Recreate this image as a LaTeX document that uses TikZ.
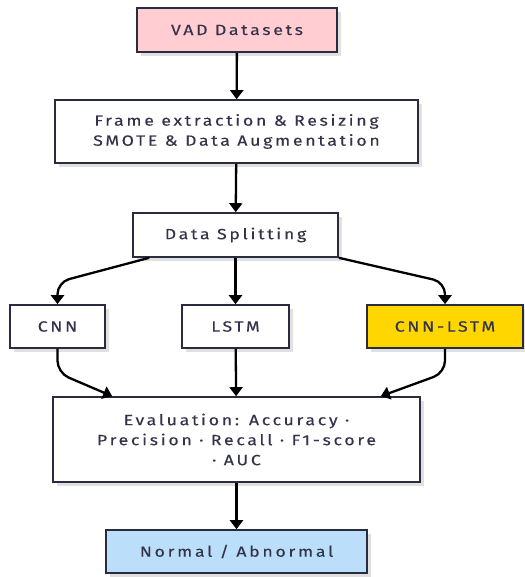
\documentclass[tikz,border=0pt]{standalone}
\usepackage{fontspec}
\setmainfont{Fira Sans}[LetterSpace=18,FakeStretch=1.2,FakeBold=0.2]
\usepackage{xcolor}
\usepackage{tikz}
\usetikzlibrary{positioning, calc, shadows, arrows.meta}

\definecolor{inkline}{HTML}{2B2B40}
\definecolor{inktext}{HTML}{33334A}
\definecolor{pinkbox}{HTML}{FFCDD2}
\definecolor{goldbox}{HTML}{FFD600}
\definecolor{bluebox}{HTML}{BBDEFB}

\tikzset{
  stage/.style={draw=inkline, line width=1.6bp, fill=white, text=inktext,
    align=center, inner sep=2bp,
    font=\fontsize{14.8bp}{20bp}\selectfont,
    drop shadow={shadow xshift=4bp, shadow yshift=-4bp, fill=black!12, opacity=1}},
  flow/.style={line width=2.3bp, -{Triangle[width=13bp,length=9bp]}},
}

\begin{document}
\begin{tikzpicture}[x=1bp, y=-1bp]

\useasboundingbox (0,0) rectangle (525,577);

% Input data
\node[stage, fill=pinkbox, minimum width=200bp, minimum height=44bp] (datasets) at (237,30) {VAD Datasets};

% Preprocessing
\node[stage, minimum width=363bp, minimum height=63bp] (frames) at (236.5,131.5) {Frame extraction \& Resizing\\SMOTE \& Data Augmentation};

% Split
\node[stage, minimum width=205bp, minimum height=44bp] (split) at (235.5,235) {Data Splitting};

% Models
\node[stage, minimum width=95bp, minimum height=43bp] (cnn) at (57.5,326.5) {CNN};
\node[stage, minimum width=107bp, minimum height=43bp] (lstm) at (235.5,326.5) {LSTM};
\node[stage, fill=goldbox, minimum width=156bp, minimum height=43bp] (cnnlstm) at (445,326.5) {CNN-LSTM};

% Metrics
\node[stage, minimum width=367bp, minimum height=85bp] (eval) at (236.5,439.5) {Evaluation: Accuracy ·\\Precision · Recall · F1-score\\· AUC};

% Result
\node[stage, fill=bluebox, minimum width=261bp, minimum height=43bp] (output) at (236.5,551.5) {Normal / Abnormal};

% Arrows
\draw[flow] (datasets) -- (frames);
\draw[flow] (frames) -- (split);
\draw[flow] (split) -- (lstm);
\draw[flow, rounded corners=12bp] ($(split.south west)+(17,0)$) -- ($(cnn.north)+(0,-22)$) -- (cnn.north);
\draw[flow, rounded corners=12bp] (split.south east) -- ($(cnnlstm.north)+(0,-22)$) -- (cnnlstm.north);
\draw[flow] (lstm) -- (eval);
\draw[flow, rounded corners=12bp] (cnn.south) -- ($(cnn.south)+(0,24)$) -- ($(eval.north west)+(60,0)$);
\draw[flow, rounded corners=12bp] (cnnlstm.south) -- ($(cnnlstm.south)+(0,24)$) -- ($(eval.north east)+(-40,0)$);
\draw[flow] (eval) -- (output);

\end{tikzpicture}
\end{document}
